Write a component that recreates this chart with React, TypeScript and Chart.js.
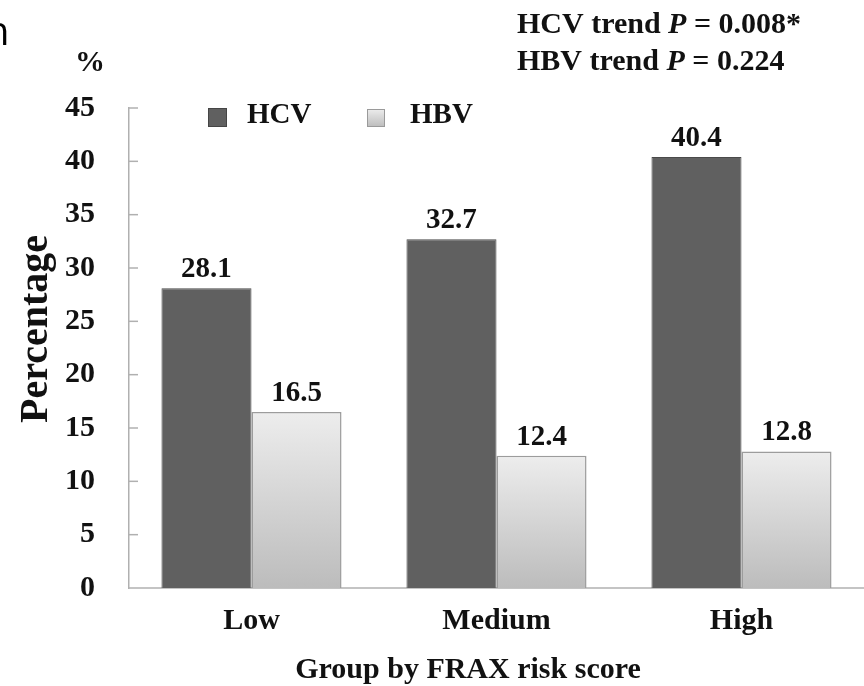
import React, { useEffect, useRef } from "react";
import { Chart, registerables } from "chart.js";

Chart.register(...registerables);

// ---- data ----
const categories = ["Low", "Medium", "High"];
const seriesNames = ["HCV", "HBV"];
const hcvValues = [28.1, 32.7, 40.4];
const hbvValues = [16.5, 12.4, 12.8];
const trendNames = ["HCV trend", "HBV trend"];
const trendP = ["0.008*", "0.224"];
const yAxisTitle = "Percentage";
const yUnit = "%";
const xAxisTitle = "Group by FRAX risk score";
const yMin = 0;
const yMax = 45;
const yStep = 5;

const SERIF = "'Liberation Serif', 'Times New Roman', Times, serif";
const INK = "#111111";
const HCV_FILL = "#606060";

function hbvGradient(ctx: CanvasRenderingContext2D, top: number, bottom: number) {
  const g = ctx.createLinearGradient(0, top, 0, bottom);
  g.addColorStop(0, "#ededed");
  g.addColorStop(1, "#bcbcbc");
  return g;
}

const decorPlugin = {
  id: "decor",
  afterDraw(chart: any) {
    const ctx: CanvasRenderingContext2D = chart.ctx;
    const ys = chart.scales.y;
    const area = chart.chartArea;
    ctx.save();

    // inward tick marks on the y axis
    ctx.strokeStyle = "#b0b0b0";
    ctx.lineWidth = 1.5;
    ys.ticks.forEach((t: any) => {
      if (t.value === yMin) return;
      const y = ys.getPixelForValue(t.value);
      ctx.beginPath();
      ctx.moveTo(area.left, y);
      ctx.lineTo(area.left + 9, y);
      ctx.stroke();
    });

    // value labels above bars
    ctx.fillStyle = INK;
    ctx.font = `bold 29px ${SERIF}`;
    ctx.textAlign = "center";
    ctx.textBaseline = "alphabetic";
    chart.data.datasets.forEach((ds: any, i: number) => {
      const meta = chart.getDatasetMeta(i);
      meta.data.forEach((bar: any, j: number) => {
        ctx.fillText(Number(ds.data[j]).toFixed(1), bar.x, bar.y - 11);
      });
    });

    // legend
    const squares = [
      { x: 208, y: 108, s: 19 },
      { x: 367, y: 109, s: 18 },
    ];
    const textX = [247, 410];
    seriesNames.forEach((name, i) => {
      const sq = squares[i];
      ctx.fillStyle = i === 0 ? HCV_FILL : hbvGradient(ctx, sq.y, sq.y + sq.s);
      ctx.fillRect(sq.x, sq.y, sq.s, sq.s);
      ctx.strokeStyle = i === 0 ? "#454545" : "#9a9a9a";
      ctx.lineWidth = 1;
      ctx.strokeRect(sq.x + 0.5, sq.y + 0.5, sq.s - 1, sq.s - 1);
      ctx.fillStyle = INK;
      ctx.font = `bold 29px ${SERIF}`;
      ctx.textAlign = "left";
      ctx.fillText(name, textX[i], 123);
    });

    // trend annotations
    const baselines = [33, 70];
    trendNames.forEach((nm, i) => {
      let x = 517;
      const y = baselines[i];
      ctx.textAlign = "left";
      ctx.fillStyle = INK;
      ctx.font = `bold 30px ${SERIF}`;
      const a = nm + " ";
      ctx.fillText(a, x, y);
      x += ctx.measureText(a).width;
      ctx.font = `italic bold 30px ${SERIF}`;
      ctx.fillText("P", x, y);
      x += ctx.measureText("P").width;
      ctx.font = `bold 30px ${SERIF}`;
      ctx.fillText(" = " + trendP[i], x, y);
    });

    // unit label
    ctx.font = `bold 30px ${SERIF}`;
    ctx.textAlign = "center";
    ctx.fillText(yUnit, 90, 71);

    // y axis title (rotated)
    ctx.save();
    ctx.translate(37, 329);
    ctx.rotate(-Math.PI / 2);
    ctx.font = `bold 40px ${SERIF}`;
    ctx.textAlign = "center";
    ctx.textBaseline = "middle";
    ctx.fillText(yAxisTitle, 0, 0);
    ctx.restore();

    // x axis title
    ctx.font = `bold 30px ${SERIF}`;
    ctx.textAlign = "center";
    ctx.textBaseline = "alphabetic";
    ctx.fillText(xAxisTitle, 468, 678);

    // cropped fragment of text at the top-left edge
    ctx.font = `40px 'Open Sans', 'DejaVu Sans', sans-serif`;
    ctx.textAlign = "left";
    ctx.fillStyle = "#000";
    const m = ctx.measureText("n");
    ctx.fillText("n", 7 - m.actualBoundingBoxRight, 45);

    ctx.restore();
  },
};

export default function App() {
  const canvasRef = useRef<HTMLCanvasElement | null>(null);

  useEffect(() => {
    const canvas = canvasRef.current;
    if (!canvas) return;
    const chart = new Chart(canvas, {
      type: "bar",
      data: {
        labels: categories,
        datasets: [
          {
            label: seriesNames[0],
            data: hcvValues,
            backgroundColor: HCV_FILL,
            borderColor: "#4a4a4a",
            borderWidth: 1,
            categoryPercentage: 0.735,
            barPercentage: 1,
          },
          {
            label: seriesNames[1],
            data: hbvValues,
            backgroundColor: (c: any) => {
              const ch = c.chart;
              const ys = ch.scales && ch.scales.y;
              if (!ys || !c.parsed) return "#d6d6d6";
              const top = ys.getPixelForValue(c.parsed.y);
              const bottom = ys.getPixelForValue(0);
              if (!isFinite(top) || !isFinite(bottom)) return "#d6d6d6";
              return hbvGradient(ch.ctx, top, bottom);
            },
            borderColor: "#9c9c9c",
            borderWidth: 1.5,
            categoryPercentage: 0.735,
            barPercentage: 1,
          },
        ],
      },
      options: {
        responsive: false,
        devicePixelRatio: 1,
        animation: false,
        events: [],
        layout: { padding: { top: 108, left: 0, right: 0, bottom: 0 } },
        plugins: {
          legend: { display: false },
          tooltip: { enabled: false },
          title: { display: false },
        },
        scales: {
          x: {
            offset: true,
            grid: { display: false },
            border: { display: true, color: "#c4c4c4", width: 2 },
            ticks: {
              color: INK,
              padding: 7,
              maxRotation: 0,
              font: { family: SERIF, size: 30, weight: "bold" },
            },
            afterFit: (scale: any) => {
              scale.height = 98;
            },
          },
          y: {
            min: yMin,
            max: yMax,
            grid: { display: false },
            border: { display: true, color: "#b0b0b0", width: 1.5 },
            ticks: {
              stepSize: yStep,
              color: INK,
              padding: 26,
              font: { family: SERIF, size: 30, weight: "bold" },
            },
            afterFit: (scale: any) => {
              scale.width = 129;
            },
          },
        },
      },
      plugins: [decorPlugin],
    } as any);
    return () => chart.destroy();
  }, []);

  return (
    <div
      style={{
        position: "absolute",
        left: 0,
        top: 0,
        width: 864,
        height: 686,
        background: "#ffffff",
        overflow: "hidden",
      }}
    >
      <canvas
        ref={canvasRef}
        width={864}
        height={686}
        style={{ width: 864, height: 686, display: "block" }}
      />
    </div>
  );
}
